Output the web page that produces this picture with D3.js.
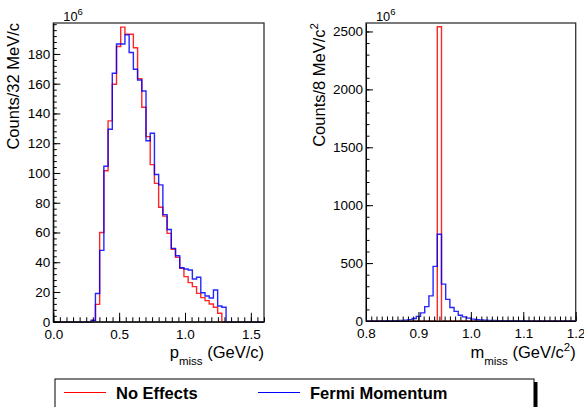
<!doctype html>
<html>

<head>
	<meta charset="utf-8">
	<style>
		body { margin: 0; background: #fff; }
		text { font-family: "Liberation Sans", Arial, Helvetica, sans-serif; fill: #000; }
	</style>
</head>

<body>
	<div class="figure"></div>

	<script src="https://d3js.org/d3.v7.min.js"></script>
	<script>
		// p_miss histograms, 50 bins of 32 MeV/c from 0 to 1.6 GeV/c (units of 10^6)
		let pNoEffects = [0, 0, 0, 0, 0, 0, 0, 0, 0,
			0.5, 11.7, 60, 101.5, 135, 159.6, 185, 198, 193.2, 193.2,
			184.2, 163.4, 144.2, 124.4, 105.6, 93, 77, 71, 59.4, 48.7,
			43.3, 35.9, 30.3, 26.3, 23.6, 19.1, 16.2, 14.2, 11.9, 9.7, 5.7,
			0, 0, 0, 0, 0, 0, 0, 0, 0, 0];
		let pFermi = [0, 0, 0, 0, 0, 0, 0, 0, 0,
			1, 19, 48, 104.5, 129.4, 167, 186.7, 186.7, 192.8, 181,
			169.7, 162.5, 155.1, 121.7, 126.7, 99, 92, 72, 62, 49.3,
			44.4, 36.3, 35.5, 34.8, 28.7, 29.9, 19.5, 17.3, 16, 21.3, 10.6, 9.7,
			0, 0, 0, 0, 0, 0, 0, 0, 0];

		// m_miss histograms, 50 bins of 8 MeV/c^2 from 0.8 to 1.2 GeV/c^2 (units of 10^6)
		let mNoEffects = [0, 0, 0, 0, 0, 0, 0, 0, 0, 0,
			0, 0, 0, 0, 0, 0, 0, 2541, 0, 0,
			0, 0, 0, 0, 0, 0, 0, 0, 0, 0,
			0, 0, 0, 0, 0, 0, 0, 0, 0, 0,
			0, 0, 0, 0, 0, 0, 0, 0, 0, 0];
		let mFermi = [0, 0, 1, 1, 1, 2, 2, 3, 4, 6,
			12, 22, 40, 70, 124, 217, 472, 749, 318, 187,
			116, 83, 50, 36, 25, 16, 11, 8, 6, 5,
			4, 3, 3, 2, 2, 2, 1, 1, 1, 1,
			1, 1, 1, 0, 0, 0, 0, 0, 0, 0];

		let pTicks = [0, 0.5, 1.0, 1.5];
		let pCountTicks = [0, 20, 40, 60, 80, 100, 120, 140, 160, 180];
		let mTicks = [0.8, 0.9, 1.0, 1.1, 1.2];
		let mCountTicks = [0, 500, 1000, 1500, 2000, 2500];
		let seriesNames = ["No Effects", "Fermi Momentum"];
		let seriesColors = ["#ff0000", "#0000ff"];

		let svg = d3.select(".figure")
			.append("svg")
			.attr("width", "584")
			.attr("height", "407");

		function range(a, b, step) {
			let out = [];
			for (let v = a; v <= b + 1e-9; v += step) out.push(+v.toFixed(6));
			return out;
		}

		function Panel(opt) {
			let x = d3.scaleLinear().domain(opt.xDomain).range([opt.left, opt.right]);
			let y = d3.scaleLinear().domain(opt.yDomain).range([opt.bottom, opt.top]);
			let g = svg.append("g");

			// histograms (step outline)
			opt.series.forEach((vals, k) => {
				let pts = [];
				vals.forEach((v, i) => {
					let x0 = opt.xDomain[0] + i * opt.binWidth;
					pts.push([x(x0), y(v)]);
					pts.push([x(x0 + opt.binWidth), y(v)]);
				});
				g.append("path")
					.attr("d", d3.line()(pts))
					.attr("fill", "none")
					.attr("stroke", seriesColors[k])
					.attr("stroke-width", 1.4)
					.attr("stroke-opacity", 0.85);
			});

			// frame
			g.append("rect")
				.attr("x", opt.left).attr("y", opt.top)
				.attr("width", opt.right - opt.left).attr("height", opt.bottom - opt.top)
				.attr("fill", "none").attr("stroke", "#333").attr("stroke-width", 1.3);

			// x axis: minor then major ticks
			g.append("g").attr("transform", `translate(0,${opt.bottom})`)
				.call(d3.axisBottom(x).tickValues(opt.xMinor).tickSizeInner(-4.5).tickSizeOuter(0).tickFormat(""))
				.call(a => a.select(".domain").remove());
			g.append("g").attr("transform", `translate(0,${opt.bottom})`)
				.call(d3.axisBottom(x).tickValues(opt.xTicks).tickSizeInner(-9).tickSizeOuter(0)
					.tickPadding(7.5).tickFormat(d3.format(".1f")))
				.call(a => a.select(".domain").attr("stroke", "#000"))
				.call(a => a.selectAll("text").style("font-size", "13.5px").attr("fill", "#111"));

			// y axis
			g.append("g").attr("transform", `translate(${opt.left},0)`)
				.call(d3.axisLeft(y).tickValues(opt.yMinor).tickSizeInner(-3.5).tickSizeOuter(0).tickFormat(""))
				.call(a => a.select(".domain").remove());
			g.append("g").attr("transform", `translate(${opt.left},0)`)
				.call(d3.axisLeft(y).tickValues(opt.yTicks).tickSizeInner(-7).tickSizeOuter(0)
					.tickPadding(3).tickFormat(d3.format("d")))
				.call(a => a.select(".domain").attr("stroke", "#000"))
				.call(a => a.selectAll("text").style("font-size", "13.5px").attr("fill", "#111"));

			// 10^6 multiplier
			let m = g.append("text").attr("x", opt.left + 10).attr("y", 20.5).style("font-size", "12.8px");
			m.append("tspan").text("10");
			m.append("tspan").attr("dy", -6).style("font-size", "9.5px").text("6");

			// x title (right aligned at axis end)
			let xt = g.append("text").attr("x", opt.right).attr("y", 358)
				.attr("text-anchor", "end").style("font-size", "16.5px");
			xt.append("tspan").text(opt.xVar);
			xt.append("tspan").attr("dy", 7).style("font-size", "11.5px").text("miss");
			xt.append("tspan").attr("dy", -7).text(" (GeV/c");
			if (opt.xSquared) xt.append("tspan").attr("dy", -7).style("font-size", "11.5px").text("2");
			xt.append("tspan").attr("dy", opt.xSquared ? 7 : 0).text(")");

			// y title (rotated, aligned to top)
			let yt = g.append("text")
				.attr("transform", `translate(${opt.yTitleX},${opt.top}) rotate(-90)`)
				.attr("text-anchor", "end").style("font-size", "16.5px");
			yt.append("tspan").text(opt.yTitle);
			if (opt.ySquared) yt.append("tspan").attr("dy", -7).style("font-size", "11.5px").text("2");
		}

		Panel({
			left: 53.3, right: 264, top: 23, bottom: 321.75,
			xDomain: [0, 1.6], yDomain: [0, 200.8], binWidth: 0.032,
			series: [pNoEffects, pFermi],
			xTicks: pTicks, xMinor: range(0, 1.6, 0.05),
			yTicks: pCountTicks, yMinor: range(0, 200, 4),
			xVar: "p", yTitle: "Counts/32 MeV/c", yTitleX: 18.5
		});

		Panel({
			left: 366, right: 575.7, top: 23, bottom: 321,
			xDomain: [0.8, 1.2], yDomain: [0, 2573], binWidth: 0.008,
			series: [mNoEffects, mFermi],
			xTicks: mTicks, xMinor: range(0.8, 1.2, 0.01),
			yTicks: mCountTicks, yMinor: range(0, 2500, 100),
			xVar: "m", xSquared: true, yTitle: "Counts/8 MeV/c", ySquared: true, yTitleX: 324.5
		});

		// legend
		let leg = svg.append("g");
		leg.append("rect").attr("x", 534).attr("y", 382).attr("width", 3.5).attr("height", 40).attr("fill", "#000");
		leg.append("rect").attr("x", 55).attr("y", 379).attr("width", 479).attr("height", 40)
			.attr("fill", "#fff").attr("stroke", "#000").attr("stroke-width", 1);
		let legX = [64, 258];
		seriesNames.forEach((name, k) => {
			leg.append("line")
				.attr("x1", legX[k]).attr("x2", legX[k] + 42)
				.attr("y1", 392.5).attr("y2", 392.5)
				.attr("stroke", seriesColors[k]).attr("stroke-width", 1.2);
			leg.append("text")
				.attr("x", legX[k] + 52).attr("y", 399)
				.style("font-size", "16.5px").style("font-weight", "bold")
				.text(name);
		});
	</script>

</body>

</html>
